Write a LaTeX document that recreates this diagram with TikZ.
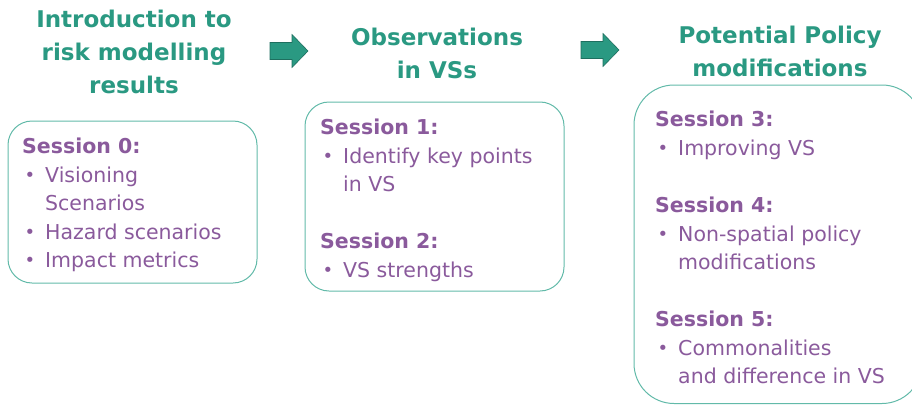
\documentclass[tikz,border=0pt]{standalone}
\usepackage{fontspec}
\setmainfont{DejaVu Sans}
\definecolor{tealhead}{HTML}{2A9982}
\definecolor{tealline}{HTML}{62BAA9}
\definecolor{tealdark}{HTML}{1E6F5F}
\definecolor{plum}{HTML}{8A5A9C}
\newcommand{\bul}[1]{\makebox[23pt][l]{\hspace*{2.5pt}{\fontsize{18}{18}\selectfont\raisebox{1pt}{•}}}#1}
\newcommand{\cont}[1]{\hspace*{23pt}#1}
% block arrow pointing right, drawn about a centre coordinate
\newcommand{\blockarrow}[1]{%
  \draw[flowarrow] ([xshift=-19pt,yshift=-8.5pt]#1) -- ([xshift=3pt,yshift=-8.5pt]#1)
    -- ([xshift=3pt,yshift=-16.5pt]#1) -- ([xshift=19pt]#1)
    -- ([xshift=3pt,yshift=16.5pt]#1) -- ([xshift=3pt,yshift=8.5pt]#1)
    -- ([xshift=-19pt,yshift=8.5pt]#1) -- cycle;}
\tikzset{
  heading/.style={inner sep=0pt, anchor=north, align=center, text=tealhead,
    font=\bfseries\fontsize{23}{33}\selectfont},
  sessionbox/.style={draw=tealline, line width=1pt, rounded corners=24pt},
  sessiontext/.style={inner sep=0pt, anchor=north west, align=left, text=plum,
    font=\fontsize{20.5}{28.5}\selectfont},
  flowarrow/.style={fill=tealhead, draw=tealdark, line width=0.6pt},
}
\begin{document}
\begin{tikzpicture}[x=1pt,y=-1pt]
\useasboundingbox (0,0) rectangle (912,404);
\clip (0,0) rectangle (912,404);

% column headings
\node[heading] (h1) at (134,10) {Introduction to\\risk modelling\\results};
\node[heading] (h2) at (437,28) {Observations\\in VSs};
\node[heading] (h3) at (780,26) {Potential Policy\\modifications};

% arrows between the headings
\coordinate (a1) at (289,51);
\coordinate (a2) at (600,50);
\blockarrow{a1}
\blockarrow{a2}

% frames
\draw[sessionbox] (8,121) rectangle (257,283);
\draw[sessionbox] (305,102) rectangle (564,291);
\draw[sessionbox, rounded corners=40pt] (634,85) rectangle (922,403.5);

% session contents
\node[sessiontext] (s0) at (22,138) {\textbf{Session 0:}\\
  \bul{Visioning}\\ \cont{Scenarios}\\ \bul{Hazard scenarios}\\ \bul{Impact metrics}};
\node[sessiontext] (s1) at (320,119) {\textbf{Session 1:}\\
  \bul{Identify key points}\\ \cont{in VS}};
\node[sessiontext] (s2) at (320,233) {\textbf{Session 2:}\\ \bul{VS strengths}};
\node[sessiontext] (s3) at (655,111) {\textbf{Session 3:}\\ \bul{Improving VS}};
\node[sessiontext] (s4) at (655,197) {\textbf{Session 4:}\\
  \bul{Non-spatial policy}\\ \cont{modifications}};
\node[sessiontext] (s5) at (655,311) {\textbf{Session 5:}\\
  \bul{Commonalities}\\ \cont{and difference in VS}};
\end{tikzpicture}
\end{document}
